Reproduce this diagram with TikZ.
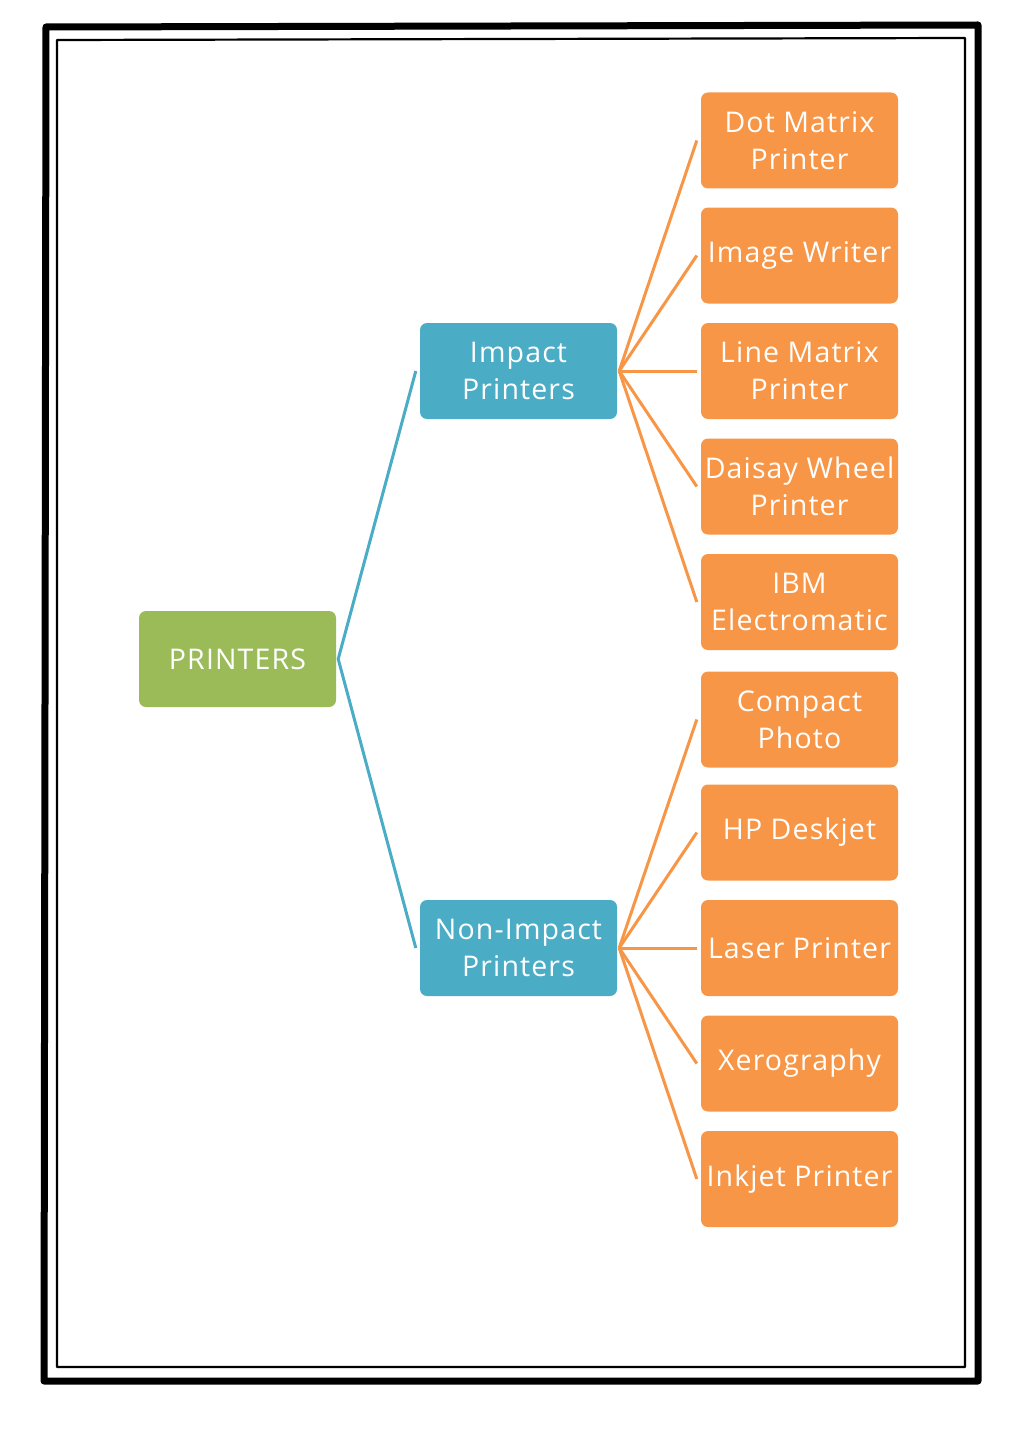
\documentclass[tikz,border=0pt]{standalone}
\usepackage{fontspec}
\setmainfont{Open Sans}[LetterSpace=4]
\definecolor{gr}{HTML}{9BBB59}
\definecolor{bl}{HTML}{4BACC6}
\definecolor{orn}{HTML}{F79646}
\begin{document}
\begin{tikzpicture}[x=1pt,y=-1pt,
  box/.style={rounded corners=7pt,minimum width=197pt,minimum height=96pt,text=white,align=center,inner sep=0pt,font=\fontsize{28.5}{37}\selectfont},
  rootbox/.style={box,fill=gr},
  midbox/.style={box,fill=bl},
  leafbox/.style={box,fill=orn},
  bline/.style={bl,line width=3pt},
  oline/.style={orn,line width=3pt}]
\useasboundingbox (0,0) rectangle (1020,1442);
% border
\draw[line width=7pt,line join=round] (46,27) -- (978,25) -- (978,1381) -- (44,1381) -- cycle;
\draw[line width=2.2pt,line join=round] (57,40) -- (965,38) -- (965,1367) -- (57,1367) -- cycle;
% nodes
\node[rootbox] (root) at (237.5,659) {PRINTERS};
\node[midbox] (imp) at (518.5,371) {Impact\\Printers};
\node[midbox] (non) at (518.5,948) {Non-Impact\\Printers};
\node[leafbox] (l1) at (799.5,140.5) {Dot Matrix\\Printer};
\node[leafbox] (l2) at (799.5,255.5) {Image Writer};
\node[leafbox] (l3) at (799.5,371) {Line Matrix\\Printer};
\node[leafbox] (l4) at (799.5,486.5) {Daisay Wheel\\Printer};
\node[leafbox] (l5) at (799.5,602) {IBM\\Electromatic};
\node[leafbox] (l6) at (799.5,719.5) {Compact\\Photo};
\node[leafbox] (l7) at (799.5,832.5) {HP Deskjet};
\node[leafbox] (l8) at (799.5,948) {Laser Printer};
\node[leafbox] (l9) at (799.5,1063.5) {Xerography};
\node[leafbox] (l10) at (799.5,1179) {Inkjet Printer};
% connectors
\draw[bline] ([xshift=-4pt]imp.west) -- ([xshift=2pt]root.east) -- ([xshift=-4pt]non.west);
\foreach \n in {l1,l2,l3,l4,l5}
  \draw[oline] ([xshift=2pt]imp.east) -- ([xshift=-4pt]\n.west);
\foreach \n in {l6,l7,l8,l9,l10}
  \draw[oline] ([xshift=2pt]non.east) -- ([xshift=-4pt]\n.west);
\end{tikzpicture}
\end{document}
